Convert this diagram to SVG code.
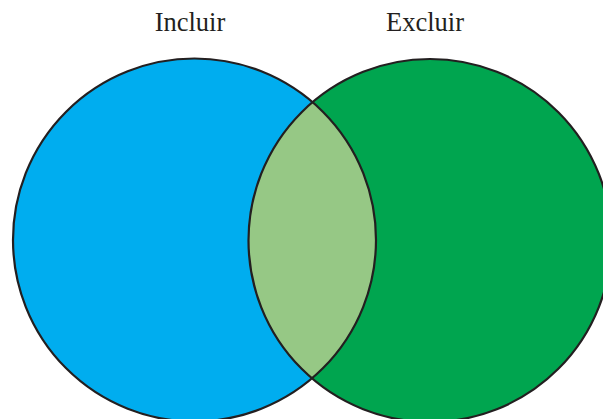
<svg xmlns="http://www.w3.org/2000/svg" width="603" height="419" viewBox="0 0 603 419">
<style>
.lbl{font-family:"Liberation Serif","Times New Roman",serif;font-size:26.5px;fill:#231f20;text-anchor:middle}
.ol{fill:none;stroke:#231f20;stroke-width:2.2}
</style>
<rect width="603" height="419" fill="#ffffff"/>
<g id="incluir">
<circle cx="194.5" cy="240" r="181.5" fill="#00adef"/>
<text class="lbl" x="190" y="31">Incluir</text>
</g>
<g id="excluir">
<circle cx="430" cy="240.5" r="181.5" fill="#00a54f"/>
<text class="lbl" x="425" y="31">Excluir</text>
</g>
<g id="interseccion">
<path d="M312.2,102.3 A181.5,181.5 0 0 1 312.2,378 A181.5,181.5 0 0 1 312.2,102.3 Z" fill="#96c885"/>
</g>
<g id="connectors">
<circle class="ol" cx="194.5" cy="240" r="181.5"/>
<circle class="ol" cx="430" cy="240.5" r="181.5"/>
</g>
</svg>
